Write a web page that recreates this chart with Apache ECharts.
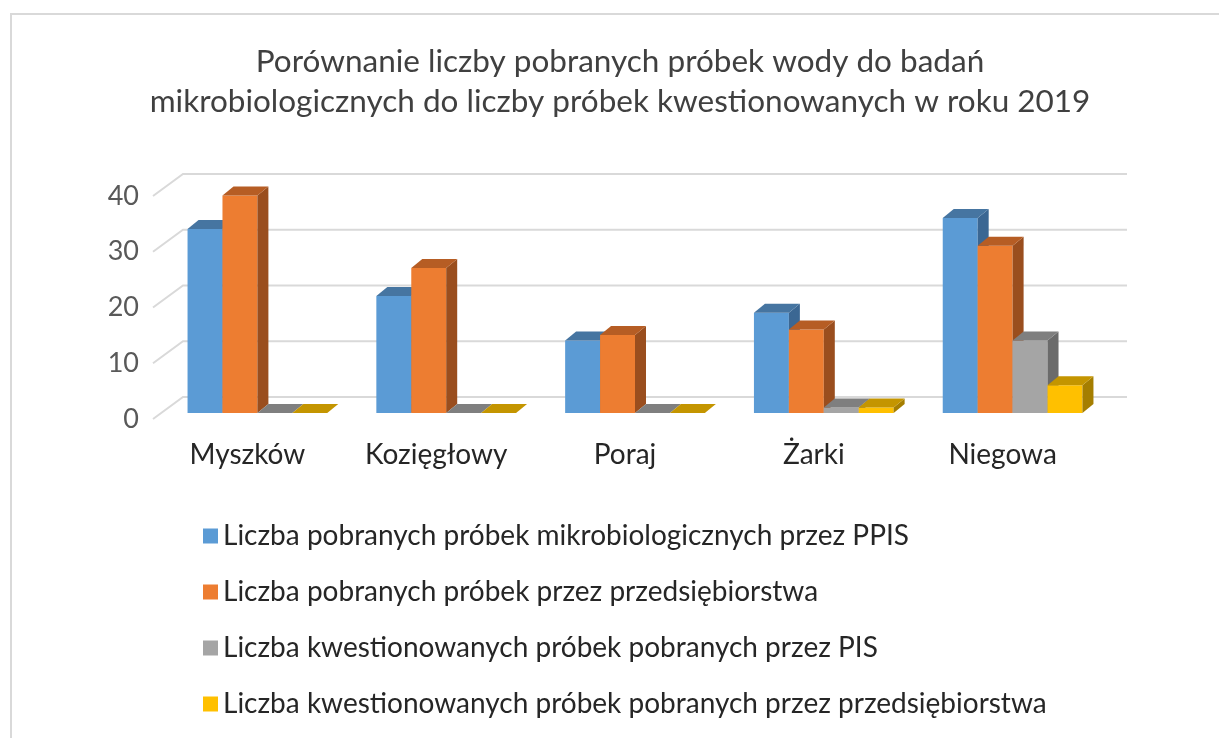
<!DOCTYPE html>
<html>
<head>
<meta charset="utf-8">
<style>
  html, body { margin: 0; padding: 0; background: #fff; }
  #chart { width: 1219px; height: 738px; }
</style>
<script src="https://cdn.jsdelivr.net/npm/echarts@6/dist/echarts.min.js"></script>
</head>
<body>
<div id="chart"></div>
<script>
// dane
var categories = ['Myszków', 'Kozięgłowy', 'Poraj', 'Żarki', 'Niegowa'];
var seriesNames = [
    'Liczba pobranych próbek mikrobiologicznych przez PPIS',
    'Liczba pobranych próbek przez przedsiębiorstwa',
    'Liczba kwestionowanych próbek pobranych przez PIS',
    'Liczba kwestionowanych próbek pobranych przez przedsiębiorstwa'
];
var ppisValues = [33, 21, 13, 18, 35];
var firmValues = [39, 26, 14, 15, 30];
var kwestPisValues = [0, 0, 0, 1, 13];
var kwestFirmValues = [0, 0, 0, 1, 5];
var yTicks = [0, 10, 20, 30, 40];

var allValues = [ppisValues, firmValues, kwestPisValues, kwestFirmValues];

// kolory: przod / gora / bok
var frontColors = ['#5b9bd5', '#ed7d31', '#a5a5a5', '#ffc000'];
var topColors   = ['#4675a1', '#b65d24', '#7f7f7f', '#c49500'];
var sideColors  = ['#3b6793', '#9a4e1e', '#6b6b6b', '#a57e00'];

var WALL_DX = 30, WALL_DY = -22;   // przesuniecie tylnej sciany
var BAR_DX = 10, BAR_DY = -6;      // przesuniecie slupkow od przodu
var DEPTH_DX = 11, DEPTH_DY = -9;  // glebokosc slupka
var BAR_RATIO = 0.185;

var chart = echarts.init(document.getElementById('chart'));

function renderGrid(params, api) {
    var p = api.coord([0, api.value(1)]);
    var band = api.size([1, 0])[0];
    var x0 = p[0] - band / 2;
    var x1 = api.coord([categories.length - 1, api.value(1)])[0] + band / 2;
    var y = p[1];
    return {
        type: 'polyline',
        shape: { points: [[x0, y], [x0 + WALL_DX, y + WALL_DY], [x1 + WALL_DX, y + WALL_DY]] },
        style: { stroke: '#d9d9d9', lineWidth: 2, fill: null }
    };
}

function makeRender(k) {
    return function (params, api) {
        var base = api.coord([api.value(0), 0]);
        var top = api.coord([api.value(0), api.value(1)]);
        var band = api.size([1, 0])[0];
        var bw = band * BAR_RATIO;
        var x = base[0] - 2 * bw + k * bw + BAR_DX;
        var yb = base[1] + BAR_DY;
        var yt = top[1] + BAR_DY;
        var children = [];
        if (yb - yt > 0.5) {
            children.push({
                type: 'rect',
                shape: { x: x, y: yt, width: bw, height: yb - yt },
                style: { fill: frontColors[k] }
            });
            children.push({
                type: 'polygon',
                shape: { points: [[x + bw, yt], [x + bw + DEPTH_DX, yt + DEPTH_DY], [x + bw + DEPTH_DX, yb + DEPTH_DY], [x + bw, yb]] },
                style: { fill: sideColors[k] }
            });
        }
        children.push({
            type: 'polygon',
            shape: { points: [[x, yt], [x + DEPTH_DX, yt + DEPTH_DY], [x + bw + DEPTH_DX, yt + DEPTH_DY], [x + bw, yt]] },
            style: { fill: topColors[k] }
        });
        return { type: 'group', children: children };
    };
}

var series = [{
    type: 'custom',
    name: 'siatka',
    silent: true,
    renderItem: renderGrid,
    data: yTicks.map(function (v) { return [0, v]; }),
    z: 1
}];

allValues.forEach(function (vals, k) {
    series.push({
        type: 'custom',
        name: seriesNames[k],
        renderItem: makeRender(k),
        itemStyle: { color: frontColors[k] },
        data: vals.map(function (v, i) { return [i, v]; }),
        z: 2
    });
});

var option = {
    animation: false,
    textStyle: { fontFamily: 'Lato' },
    title: {
        text: 'Porównanie liczby pobranych próbek wody do badań\nmikrobiologicznych do liczby próbek kwestionowanych w roku 2019',
        left: 620,
        textAlign: 'center',
        top: 42,
        padding: 0,
        textStyle: { fontSize: 31.5, lineHeight: 40, fontWeight: 'normal', color: '#404040', fontFamily: 'Lato' }
    },
    graphic: [{
        type: 'rect',
        shape: { x: 11, y: 14, width: 1230, height: 740 },
        style: { fill: null, stroke: '#d9d9d9', lineWidth: 2 },
        silent: true
    }],
    legend: {
        orient: 'vertical',
        left: 198,
        top: 517,
        itemWidth: 15,
        itemHeight: 15,
        itemGap: 28,
        icon: 'rect',
        data: seriesNames,
        textStyle: { fontSize: 28, color: '#262626', fontFamily: 'Lato' }
    },
    grid: { left: 153, right: 122, top: 196, bottom: 319 },
    xAxis: {
        type: 'category',
        data: categories,
        axisLine: { show: false },
        axisTick: { show: false },
        axisLabel: { fontSize: 28, color: '#262626', margin: 22 }
    },
    yAxis: {
        type: 'value',
        min: 0,
        max: 40,
        interval: 10,
        axisLine: { show: false },
        axisTick: { show: false },
        splitLine: { show: false },
        axisLabel: { fontSize: 27, color: '#595959', margin: 14 }
    },
    series: series
};

chart.setOption(option);
</script>
</body>
</html>
